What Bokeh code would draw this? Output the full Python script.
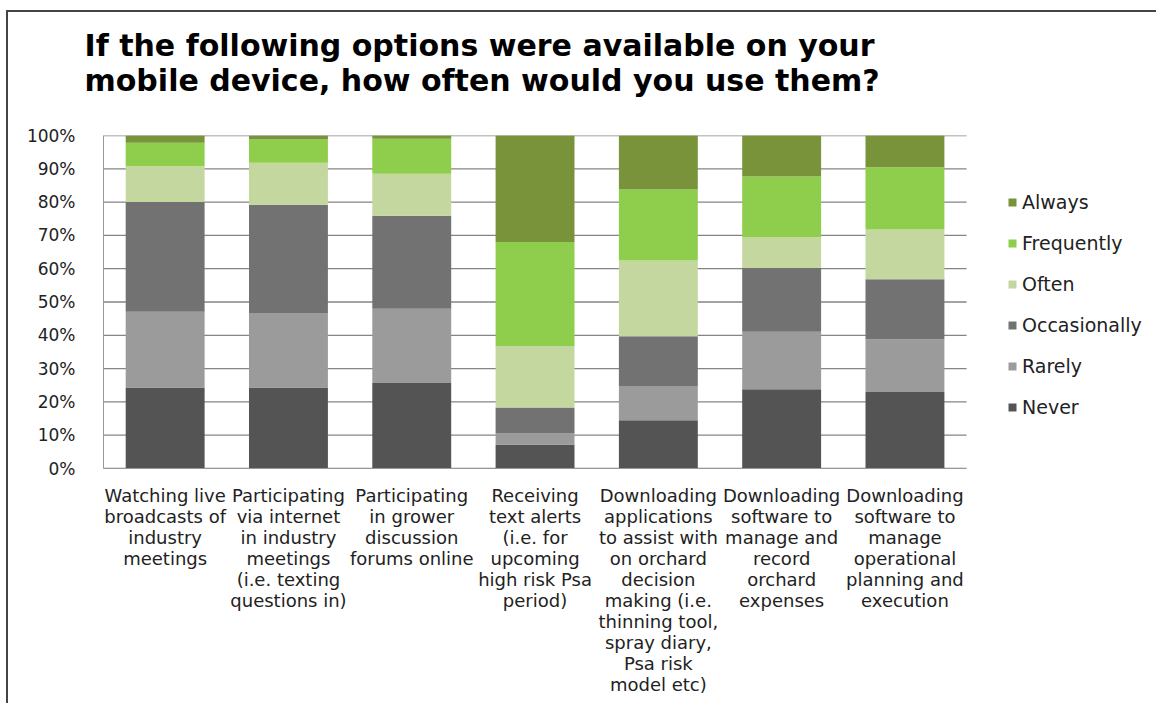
from bokeh.plotting import figure
from bokeh.models import (Range1d, FixedTicker, PrintfTickFormatter, Title,
                          Legend, LegendItem, ColumnDataSource)
from bokeh.embed import file_html
from bokeh.resources import INLINE

categories = [
    "Watching live\nbroadcasts of\nindustry\nmeetings",
    "Participating\nvia internet\nin industry\nmeetings\n(i.e. texting\nquestions in)",
    "Participating\nin grower\ndiscussion\nforums online",
    "Receiving\ntext alerts\n(i.e. for\nupcoming\nhigh risk Psa\nperiod)",
    "Downloading\napplications\nto assist with\non orchard\ndecision\nmaking (i.e.\nthinning tool,\nspray diary,\nPsa risk\nmodel etc)",
    "Downloading\nsoftware to\nmanage and\nrecord\norchard\nexpenses",
    "Downloading\nsoftware to\nmanage\noperational\nplanning and\nexecution",
]
series = ["Never", "Rarely", "Occasionally", "Often", "Frequently", "Always"]
never = [24.3, 24.3, 25.7, 7.2, 14.5, 23.8, 23.0]
rarely = [22.8, 22.4, 22.3, 3.3, 10.3, 17.3, 15.8]
occasionally = [32.9, 32.5, 27.9, 7.8, 14.9, 19.1, 18.0]
often = [10.8, 12.6, 12.6, 18.5, 22.8, 9.3, 15.0]
frequently = [7.0, 7.0, 10.5, 31.2, 21.3, 18.2, 18.7]
always = [2.2, 1.2, 1.0, 32.0, 16.2, 12.3, 9.5]
y_ticks = [0, 10, 20, 30, 40, 50, 60, 70, 80, 90, 100]
colors = ["#545454", "#9b9b9b", "#727272", "#c4d79e", "#8fcd4c", "#78933a"]

n = len(categories)
xpos = list(range(n))
source = ColumnDataSource(dict(x=xpos, Never=never, Rarely=rarely,
                               Occasionally=occasionally, Often=often,
                               Frequently=frequently, Always=always))

FONT = "DejaVu Sans"
CAT_PX = 123.3            # pixel pitch of one category slot
FRAME_W = 1050            # frame extends under the legend area
x_end = -0.5 + FRAME_W / CAT_PX

p = figure(x_range=Range1d(-0.5, x_end), y_range=Range1d(0, 100),
           width=1150, height=693, output_backend="svg", toolbar_location=None,
           min_border_left=95, min_border_right=5, min_border_top=123,
           min_border_bottom=237)
p.styles = {"border-left": "2px solid #444444", "border-top": "2px solid #444444",
            "margin-left": "6px", "margin-top": "10px"}

# spacer between the title and the plot area (closest to the frame)
p.add_layout(Title(text=" ", text_font_size="1px", standoff=34), "above")

p.title.text = "If the following options were available on your\nmobile device, how often would you use them?"
p.title.text_font = "DejaVu Sans"
p.title.text_font_style = "bold"
p.title.text_font_size = "30px"
p.title.text_color = "#000000"
p.title.align = "left"
p.title.offset = -19
p.title.standoff = 0
p.title.text_line_height = 1.02

# horizontal gridlines, limited to the category area
grid = p.segment(x0=-0.5, x1=n - 0.5, y0=y_ticks, y1=y_ticks,
                 line_color="#858585", line_width=1.3, level="underlay")

renderers = p.vbar_stack(series, x="x", width=0.64, source=source,
                         color=colors, line_color=None)

p.outline_line_color = None
p.xgrid.grid_line_color = None
p.ygrid.grid_line_color = None
p.yaxis.ticker = FixedTicker(ticks=y_ticks)
p.yaxis.formatter = PrintfTickFormatter(format="%d%%")
p.yaxis.axis_line_color = "#999999"
p.yaxis.major_tick_line_color = None
p.yaxis.minor_tick_line_color = None
p.yaxis.major_label_standoff = 22
p.yaxis.major_label_text_font = FONT
p.yaxis.major_label_text_font_size = "17px"
p.yaxis.major_label_text_color = "#222222"

p.xaxis.ticker = FixedTicker(ticks=xpos)
p.xaxis.major_label_overrides = {i: c for i, c in zip(xpos, categories)}
p.xaxis.bounds = (-0.5, n - 0.5)
p.xaxis.axis_line_color = "#999999"
p.xaxis.major_tick_line_color = None
p.xaxis.minor_tick_line_color = None
p.xaxis.major_label_standoff = 10
p.xaxis.major_label_text_font = FONT
p.xaxis.major_label_text_font_size = "18px"
p.xaxis.major_label_text_color = "#222222"
p.xaxis.major_label_text_line_height = 1.0

items = [LegendItem(label=s, renderers=[r]) for s, r in zip(series, renderers)][::-1]
legend = Legend(items=items, location=(904, 50), orientation="vertical",
                glyph_width=10, glyph_height=10, label_standoff=5,
                spacing=19, padding=0, margin=0, border_line_color=None,
                background_fill_alpha=0, label_text_font=FONT,
                label_text_font_size="19px", label_text_color="#222222",
                label_height=20)
p.add_layout(legend)

open("out.html", "w").write(file_html(p, INLINE))
